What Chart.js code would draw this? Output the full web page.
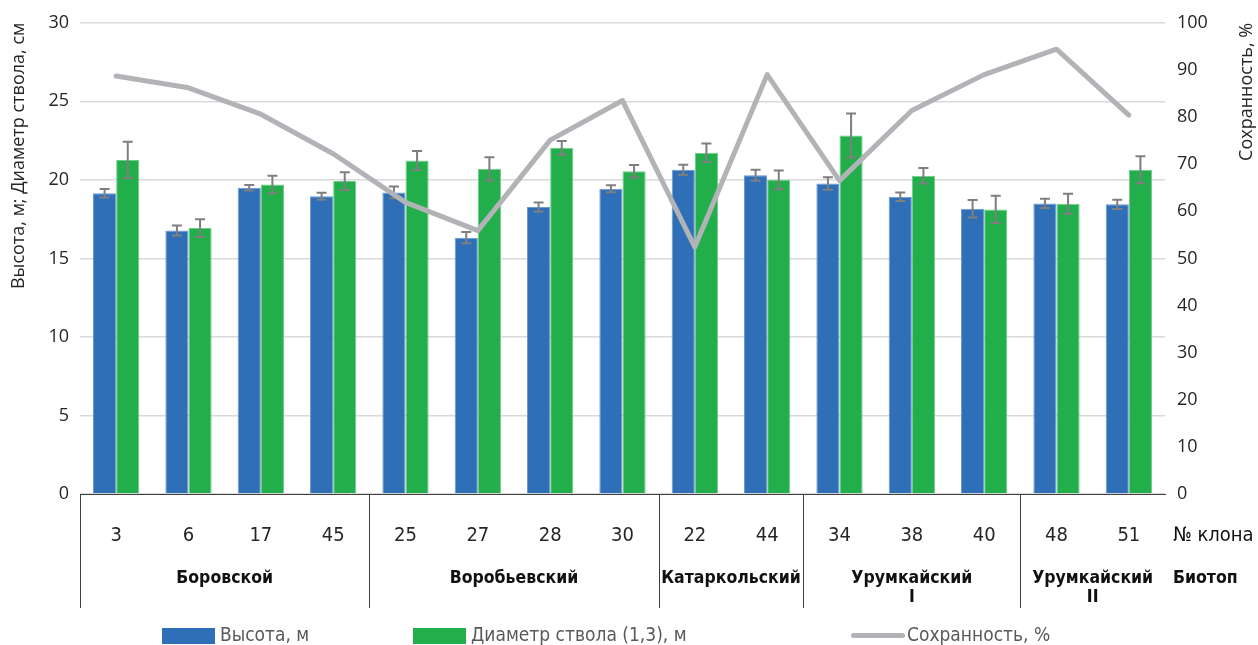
<!DOCTYPE html>
<html lang="ru">
<head>
<meta charset="utf-8">
<title>Высота, диаметр и сохранность клонов</title>
<script src="https://cdn.jsdelivr.net/npm/chart.js@4/dist/chart.umd.min.js"></script>
<style>
  body { margin: 0; background: #fff; }
  #wrap { position: relative; width: 1258px; height: 645px; }
  #legend { position: absolute; left: 0; top: 622px; width: 1258px; height: 24px;
    font-family: "Liberation Sans Narrow", "DejaVu Sans Condensed", "Roboto Condensed", "Liberation Sans", sans-serif;
    font-size: 19px; color: #595959; }
  .item { position: absolute; top: 0; height: 24px; line-height: 24px; white-space: nowrap; }
  .swatch { display: inline-block; vertical-align: middle; margin-right: 5px; }
</style>
</head>
<body>
<div id="wrap">
  <canvas id="chart" width="1258" height="645"></canvas>
  <div id="legend"></div>
</div>
<script>
// clone numbers and biotope groups
const clones = ['3', '6', '17', '45', '25', '27', '28', '30', '22', '44', '34', '38', '40', '48', '51'];
const biotopes = [['Боровской'], ['Воробьевский'], ['Катаркольский'], ['Урумкайский', 'I'], ['Урумкайский', 'II']];
const biotopeSizes = [4, 4, 2, 3, 2];

// values
const heightM = [19.15, 16.78, 19.5, 18.96, 19.2, 16.32, 18.27, 19.43, 20.64, 20.3, 19.77, 18.93, 18.16, 18.5, 18.44];
const heightErr = [0.27, 0.32, 0.17, 0.22, 0.37, 0.36, 0.29, 0.22, 0.32, 0.35, 0.4, 0.27, 0.56, 0.29, 0.29];
const diameter = [21.27, 16.93, 19.71, 19.92, 21.23, 20.7, 22.04, 20.55, 21.72, 20.0, 22.82, 20.26, 18.12, 18.48, 20.64];
const diameterErr = [1.15, 0.57, 0.56, 0.57, 0.6, 0.74, 0.44, 0.4, 0.59, 0.6, 1.4, 0.49, 0.87, 0.64, 0.86];
const survival = [88.7, 86.2, 80.6, 72.2, 61.9, 55.9, 75.1, 83.5, 52.4, 89.0, 66.5, 81.4, 89.0, 94.4, 80.4];

const narrow = '"Liberation Sans Narrow", "DejaVu Sans Condensed", "Roboto Condensed", "Liberation Sans", sans-serif';
const plain = '"Open Sans", "Noto Sans", sans-serif';

const errorBars = {
  id: 'errorBars',
  afterDatasetDraw(chart, args) {
    const ds = chart.data.datasets[args.index];
    if (!ds.errors) return;
    const y = chart.scales.y;
    const ctx = chart.ctx;
    ctx.save();
    ctx.strokeStyle = '#7f7f7f';
    ctx.lineWidth = 2;
    args.meta.data.forEach((bar, i) => {
      const top = y.getPixelForValue(ds.data[i] + ds.errors[i]);
      const bot = y.getPixelForValue(ds.data[i] - ds.errors[i]);
      ctx.beginPath();
      ctx.moveTo(bar.x, top); ctx.lineTo(bar.x, bot);
      ctx.moveTo(bar.x - 5, top); ctx.lineTo(bar.x + 5, top);
      ctx.moveTo(bar.x - 5, bot); ctx.lineTo(bar.x + 5, bot);
      ctx.stroke();
    });
    ctx.restore();
  }
};

// the biotope row under the clone numbers, and the right axis title
const biotopeTable = {
  id: 'biotopeTable',
  afterDraw(chart) {
    const { ctx, chartArea } = chart;
    const x = chart.scales.x;
    const half = (x.getPixelForValue(1) - x.getPixelForValue(0)) / 2;
    const base = chartArea.bottom;
    ctx.save();
    ctx.strokeStyle = '#404040';
    ctx.lineWidth = 1;
    ctx.fillStyle = '#111';
    ctx.textAlign = 'center';
    ctx.textBaseline = 'middle';
    ctx.font = 'bold 17.5px ' + narrow;
    let start = 0;
    biotopes.forEach((lines, g) => {
      const left = x.getPixelForValue(start) - half;
      const right = x.getPixelForValue(start + biotopeSizes[g] - 1) + half;
      const lx = Math.round(left) + 0.5;
      ctx.beginPath();
      ctx.moveTo(lx, base);
      ctx.lineTo(lx, base + 114);
      ctx.stroke();
      lines.forEach((t, k) => ctx.fillText(t, (left + right) / 2, base + 84 + k * 19));
      start += biotopeSizes[g];
    });
    ctx.textAlign = 'left';
    ctx.font = '20px ' + narrow;
    ctx.fillText('№ клона', chartArea.right + 8, base + 42);
    ctx.font = 'bold 17.5px ' + narrow;
    ctx.fillText('Биотоп', chartArea.right + 8, base + 84);

    // right axis title reads bottom to top
    ctx.translate(1247, chartArea.top);
    ctx.rotate(-Math.PI / 2);
    ctx.textAlign = 'right';
    ctx.fillStyle = '#262626';
    ctx.font = '18px ' + plain;
    ctx.fillText('Сохранность, %', 0, 0);
    ctx.restore();
  }
};

const chart = new Chart(document.getElementById('chart'), {
  type: 'bar',
  data: {
    labels: clones,
    datasets: [
      {
        label: 'Высота, м',
        data: heightM,
        errors: heightErr,
        backgroundColor: '#2e6fb7',
        borderColor: '#6b97cf',
        borderWidth: 1,
        yAxisID: 'y',
        order: 1
      },
      {
        label: 'Диаметр ствола (1,3), м',
        data: diameter,
        errors: diameterErr,
        backgroundColor: '#22ae4b',
        borderColor: '#6fcb89',
        borderWidth: 1,
        yAxisID: 'y',
        order: 1
      },
      {
        type: 'line',
        label: 'Сохранность, %',
        data: survival,
        borderColor: '#b1b3b6',
        borderWidth: 5,
        borderCapStyle: 'round',
        borderJoinStyle: 'round',
        pointRadius: 0,
        tension: 0,
        fill: false,
        yAxisID: 'y1',
        order: 0
      }
    ]
  },
  options: {
    responsive: false,
    animation: false,
    devicePixelRatio: 1,
    layout: { padding: { top: 22, left: 0, right: 0, bottom: 0 } },
    datasets: { bar: { categoryPercentage: 0.64, barPercentage: 1.0 } },
    plugins: { legend: { display: false }, tooltip: { enabled: false } },
    scales: {
      x: {
        grid: { display: false, drawTicks: false },
        border: { display: true, color: '#404040', width: 1 },
        ticks: { autoSkip: false, maxRotation: 0, padding: 30, color: '#262626', font: { family: narrow, size: 20 } },
        afterFit: s => { s.height = 151; }
      },
      y: {
        position: 'left',
        min: 0, max: 30,
        ticks: { stepSize: 5, padding: 11, color: '#262626', font: { family: plain, size: 18 } },
        grid: { color: '#d9d9d9', lineWidth: 1.5, drawTicks: false },
        border: { display: false },
        title: { display: true, text: 'Высота, м; Диаметр ствола, см', align: 'end', color: '#262626',
                 font: { family: plain, size: 18 }, padding: { top: 8, bottom: 0 } },
        afterFit: s => { s.width = 80; }
      },
      y1: {
        position: 'right',
        min: 0, max: 100,
        ticks: { stepSize: 10, padding: 12, color: '#262626', font: { family: plain, size: 18 } },
        grid: { drawOnChartArea: false, drawTicks: false },
        border: { display: false },
        afterFit: s => { s.width = 93; }
      }
    }
  },
  plugins: [errorBars, biotopeTable]
});

// legend laid out like the original figure
const legendX = [162, 413, 851];
const legend = document.getElementById('legend');
chart.data.datasets.forEach((ds, i) => {
  const item = document.createElement('div');
  item.className = 'item';
  item.style.left = legendX[i] + 'px';
  const sw = document.createElement('span');
  sw.className = 'swatch';
  if (ds.type === 'line') {
    sw.style.width = '54px';
    sw.style.height = '5px';
    sw.style.borderRadius = '3px';
    sw.style.marginRight = '2px';
    sw.style.background = ds.borderColor;
  } else {
    sw.style.width = '53px';
    sw.style.height = '16px';
    sw.style.background = ds.backgroundColor;
  }
  item.appendChild(sw);
  item.appendChild(document.createTextNode(ds.label));
  legend.appendChild(item);
});
</script>
</body>
</html>
